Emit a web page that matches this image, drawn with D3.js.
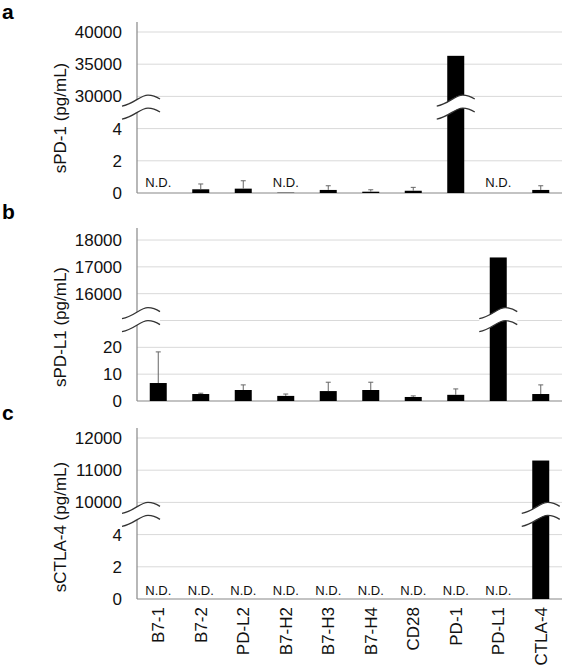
<!DOCTYPE html>
<html>
<head>
<meta charset="utf-8">
<script src="https://cdn.jsdelivr.net/npm/d3@7/dist/d3.min.js"></script>
<style>
  html, body { margin: 0; padding: 0; background: #fff; }
  svg { display: block; font-family: "Liberation Sans", Arial, sans-serif; }
</style>
</head>
<body>
<svg id="chart" width="564" height="667"></svg>
<script>
// ---------------- data ----------------
const categories = ["B7-1", "B7-2", "PD-L2", "B7-H2", "B7-H3", "B7-H4", "CD28", "PD-1", "PD-L1", "CTLA-4"];

// panel a: sPD-1 (pg/mL)
const sPD1Values = [0, 0.23, 0.27, 0.02, 0.19, 0.08, 0.14, 36300, 0, 0.19];
const sPD1Errors = [0, 0.33, 0.49, 0, 0.26, 0.12, 0.21, 0, 0, 0.26];
const sPD1ND     = [true, false, false, true, false, false, false, false, true, false];
const sPD1Ticks  = ["0", "2", "4", "30000", "35000", "40000"];

// panel b: sPD-L1 (pg/mL)
const sPDL1Values = [6.7, 2.6, 4.1, 1.9, 3.7, 4.1, 1.5, 2.3, 17350, 2.6];
const sPDL1Errors = [11.6, 0.3, 1.9, 0.7, 3.3, 2.9, 0.4, 2.2, 0, 3.4];
const sPDL1ND     = [false, false, false, false, false, false, false, false, false, false];
const sPDL1Ticks  = ["0", "10", "20", "", "16000", "17000", "18000"];

// panel c: sCTLA-4 (pg/mL)
const sCTLA4Values = [0, 0, 0, 0, 0, 0, 0, 0, 0, 11300];
const sCTLA4Errors = [0, 0, 0, 0, 0, 0, 0, 0, 0, 0];
const sCTLA4ND     = [true, true, true, true, true, true, true, true, true, false];
const sCTLA4Ticks  = ["0", "2", "4", "10000", "11000", "12000"];

// ---------------- layout ----------------
const svg = d3.select("#chart");
const left = 137, right = 562;

const x = d3.scaleBand().domain(categories).range([left, right]).paddingInner(0.6).paddingOuter(0.3);

const panels = [
  { letter: "a", letterY: 19, title: "sPD-1 (pg/mL)", values: sPD1Values, errors: sPD1Errors, nd: sPD1ND,
    ticks: sPD1Ticks, base: 193, unit: 32.2, axisTop: 22, titleY: 118,
    domain: [0, 4, 30000, 40000], units: [0, 2, 3, 5], breakUnit: 2.7, ndOffset: 6 },
  { letter: "b", letterY: 219, title: "sPD-L1 (pg/mL)", values: sPDL1Values, errors: sPDL1Errors, nd: sPDL1ND,
    ticks: sPDL1Ticks, base: 401, unit: 26.83, axisTop: 228, titleY: 327,
    domain: [0, 20, 16000, 18000], units: [0, 2, 4, 6], breakUnit: 3.07, ndOffset: 5 },
  { letter: "c", letterY: 420, title: "sCTLA-4 (pg/mL)", values: sCTLA4Values, errors: sCTLA4Errors, nd: sCTLA4ND,
    ticks: sCTLA4Ticks, base: 599, unit: 32.2, axisTop: 428, titleY: 527,
    domain: [0, 4, 10000, 12000], units: [0, 2, 3, 5], breakUnit: 2.66, ndOffset: 4 }
];

function wavePath(x0, y0) {
  return `M${x0},${y0} C${x0 + 12},${y0 - 2} ${x0 + 18},${y0 - 11} ${x0 + 26},${y0 - 11} C${x0 + 31},${y0 - 11} ${x0 + 35},${y0 - 9} ${x0 + 38},${y0 - 7}`;
}
function waveFill(x0, y0, gap) {
  const y1 = y0 + gap;
  return `M${x0},${y0} C${x0 + 12},${y0 - 2} ${x0 + 18},${y0 - 11} ${x0 + 26},${y0 - 11} C${x0 + 31},${y0 - 11} ${x0 + 35},${y0 - 9} ${x0 + 38},${y0 - 7}` +
    ` L${x0 + 38},${y1 - 7} C${x0 + 35},${y1 - 9} ${x0 + 31},${y1 - 11} ${x0 + 26},${y1 - 11} C${x0 + 18},${y1 - 11} ${x0 + 12},${y1 - 2} ${x0},${y1} Z`;
}
function drawBreak(g, x0, y0) {
  const gap = 13;
  g.append("path").attr("d", waveFill(x0, y0, gap)).attr("fill", "#fff").attr("stroke", "none");
  g.append("path").attr("d", wavePath(x0, y0)).attr("fill", "none").attr("stroke", "#333").attr("stroke-width", 1.3);
  g.append("path").attr("d", wavePath(x0, y0 + gap)).attr("fill", "none").attr("stroke", "#333").attr("stroke-width", 1.3);
}

panels.forEach(p => {
  const g = svg.append("g");
  const uy = d3.scaleLinear().domain([0, 1]).range([p.base, p.base - p.unit]);
  const y = d3.scaleLinear().domain(p.domain).range(p.units.map(u => uy(u)));

  // panel letter
  g.append("text").attr("x", 2).attr("y", p.letterY).attr("font-size", 21).attr("font-weight", "bold")
    .attr("fill", "#000").text(p.letter);

  // gridlines + tick labels (by unit positions)
  p.ticks.forEach((t, i) => {
    if (i > 0) {
      g.append("line").attr("x1", left).attr("x2", right).attr("y1", uy(i)).attr("y2", uy(i))
        .attr("stroke", "#d9d9d9").attr("stroke-width", 1);
    }
    if (t !== "") {
      g.append("text").attr("x", 122).attr("y", uy(i)).attr("dy", "0.35em").attr("text-anchor", "end")
        .attr("font-size", 17).attr("fill", "#111").text(t);
    }
  });

  // axes
  g.append("line").attr("x1", left).attr("x2", left).attr("y1", p.base).attr("y2", p.axisTop)
    .attr("stroke", "#888").attr("stroke-width", 1.2);
  g.append("line").attr("x1", left).attr("x2", right).attr("y1", p.base).attr("y2", p.base)
    .attr("stroke", "#888").attr("stroke-width", 1.2);

  // y title
  g.append("text").attr("transform", `translate(60,${p.titleY}) rotate(-90)`).attr("dy", "0.35em")
    .attr("text-anchor", "middle").attr("font-size", 17).attr("fill", "#111").text(p.title);

  // bars
  categories.forEach((c, i) => {
    const v = p.values[i];
    if (v > 0) {
      g.append("rect").attr("x", x(c)).attr("width", x.bandwidth())
        .attr("y", y(v)).attr("height", p.base - y(v)).attr("fill", "#000");
    }
    const e = p.errors[i];
    if (e > 0) {
      const cx = x(c) + x.bandwidth() / 2;
      g.append("line").attr("x1", cx).attr("x2", cx).attr("y1", y(v)).attr("y2", y(v + e))
        .attr("stroke", "#666").attr("stroke-width", 1);
      g.append("line").attr("x1", cx - 2.5).attr("x2", cx + 2.5).attr("y1", y(v + e)).attr("y2", y(v + e))
        .attr("stroke", "#666").attr("stroke-width", 1);
    }
    if (p.nd[i]) {
      g.append("text").attr("x", x(c) + x.bandwidth() / 2).attr("y", p.base - p.ndOffset)
        .attr("text-anchor", "middle").attr("font-size", 13).attr("fill", "#111").text("N.D.");
    }
  });

  // breaks: on axis and on tall bars
  const by = uy(p.breakUnit);
  drawBreak(g, left - 15, by);
  categories.forEach((c, i) => {
    if (p.values[i] > p.domain[1]) {
      drawBreak(g, x(c) + x.bandwidth() / 2 - 19, by);
    }
  });

  // category labels under the last panel
  if (p.letter === "c") {
    categories.forEach(c => {
      g.append("text").attr("transform", `translate(${x(c) + x.bandwidth() / 2},607) rotate(-90)`)
        .attr("dy", "0.35em").attr("text-anchor", "end").attr("font-size", 17).attr("fill", "#111").text(c);
    });
  }
});
</script>
</body>
</html>
